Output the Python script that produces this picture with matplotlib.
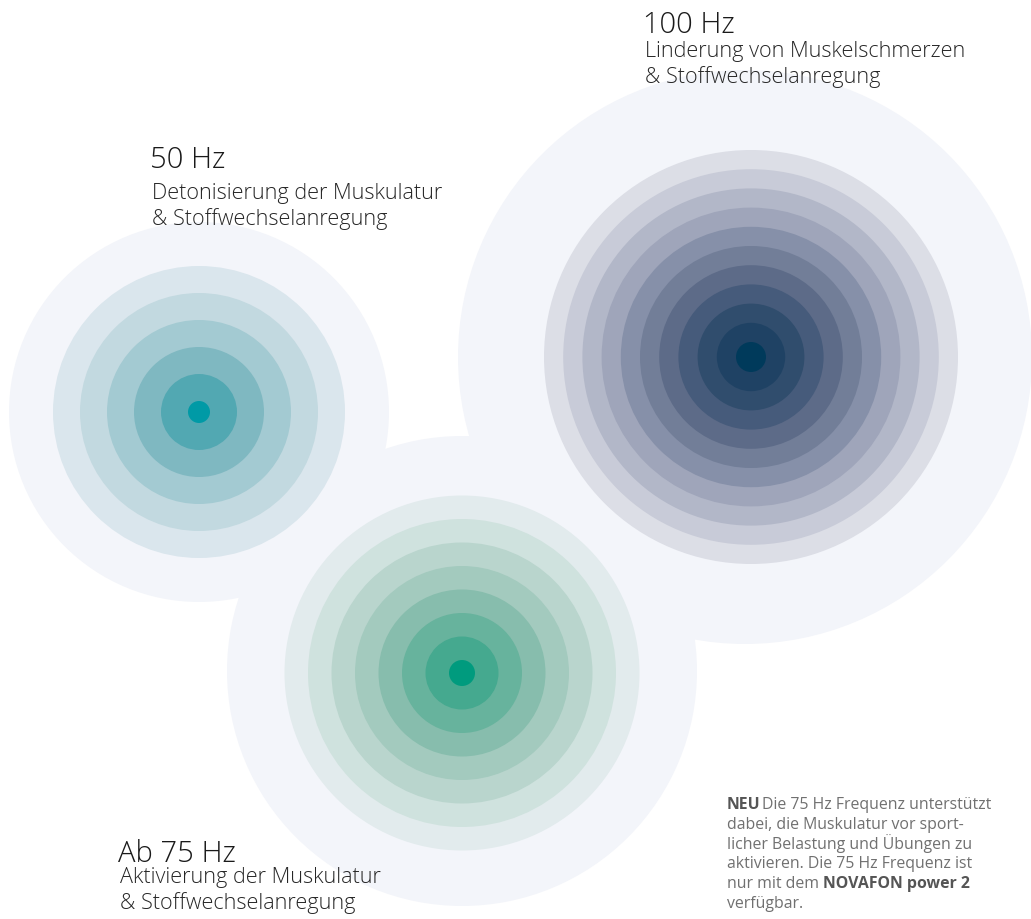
import matplotlib.pyplot as plt
from matplotlib.patches import Circle

# frequency groups: 50 Hz, ab 75 Hz, 100 Hz
freq_labels = ['50 Hz', 'Ab 75 Hz', '100 Hz']
freq_text = [
    ['Detonisierung der Muskulatur', '& Stoffwechselanregung'],
    ['Aktivierung der Muskulatur', '& Stoffwechselanregung'],
    ['Linderung von Muskelschmerzen', '& Stoffwechselanregung'],
]

# ring colours, innermost (core) first
rings_50 = ['#009aa6', '#52a8b2', '#7fb8c1', '#a3cad2', '#c2d9e0', '#dae6ed']
rings_75 = ['#009b7e', '#45a98f', '#67b39d', '#87bdad', '#a3cabe', '#b9d5cd',
            '#cfe2de', '#e2ebed']
rings_100 = ['#003a5b', '#1f4264', '#304d6d', '#465b7b', '#5d6b88', '#727e98',
             '#8690a9', '#9fa5ba', '#b2b7c8', '#c8cbd8', '#dcdee6']
halo_color = '#f3f5fa'

# note in the lower right corner: (text, bold) segments per line
note_lines = [
    [('NEU', True), ('Die 75 Hz Frequenz unterstützt', False)],
    [('dabei, die Muskulatur vor sport-', False)],
    [('licher Belastung und Übungen zu', False)],
    [('aktivieren. Die 75 Hz Frequenz ist', False)],
    [('nur mit dem', False), ('NOVAFON power 2', True)],
    [('verfügbar.', False)],
]

# layout in pixels (y downwards)
W, H = 1031, 920
centers = [(199, 413), (462, 674), (751, 358)]
core_r = [11, 13, 15]
ring_step = [27, 23.5, 19.2]
halo_centers = [(199, 413), (462, 672), (745, 358)]
halo_r = [190, 235, 287]
label_xy = [(150, 168), (118, 862), (643, 33)]
sub_gap = [31, 21, 24]
sub_step = 26.5

FONT = ['Open Sans', 'DejaVu Sans']

fig = plt.figure(figsize=(W / 100, H / 100), dpi=100)
ax = fig.add_axes([0, 0, 1, 1])
ax.set_xlim(0, W)
ax.set_ylim(H, 0)
ax.set_aspect('equal')
ax.axis('off')

# light halos behind everything
for (cx, cy), r in zip(halo_centers, halo_r):
    ax.add_patch(Circle((cx, cy), r, facecolor=halo_color, lw=0, zorder=1))

# concentric rings, biggest first
for (cx, cy), colors, r0, step in zip(centers, [rings_50, rings_75, rings_100],
                                      core_r, ring_step):
    for i in range(len(colors) - 1, -1, -1):
        r = r0 + step * i
        ax.add_patch(Circle((cx, cy), r, facecolor=colors[i], lw=0, zorder=2))

# labels
for (x, y), title, lines, gap in zip(label_xy, freq_labels, freq_text, sub_gap):
    ax.text(x, y, title, fontsize=21, family=FONT, fontweight='light',
            color='#1a1a1a', va='baseline', ha='left', zorder=5)
    for j, line in enumerate(lines):
        ax.text(x + 2, y + gap + j * sub_step, line, fontsize=15.6, family=FONT,
                fontweight='light', color='#262626', va='baseline', ha='left',
                zorder=5)

# note paragraph with bold fragments
note_x, note_y, note_step = 727, 809, 19.8
for k, segs in enumerate(note_lines):
    prev = None
    prev_bold = False
    for txt, bold in segs:
        kw = dict(fontsize=11.4, family=FONT, color='#555555' if bold else '#707070',
                  fontweight='bold' if bold else 'normal', zorder=5)
        if prev is None:
            prev = ax.text(note_x, note_y + k * note_step, txt, va='baseline',
                           ha='left', **kw)
        else:
            gap = 1.2 if prev_bold else 2.8
            prev = ax.annotate(txt, xy=(1, 0), xycoords=prev, xytext=(gap, 0),
                               textcoords='offset points', va='bottom',
                               ha='left', **kw)
        prev_bold = bold

fig.savefig('out.png', dpi=100, facecolor='white')
